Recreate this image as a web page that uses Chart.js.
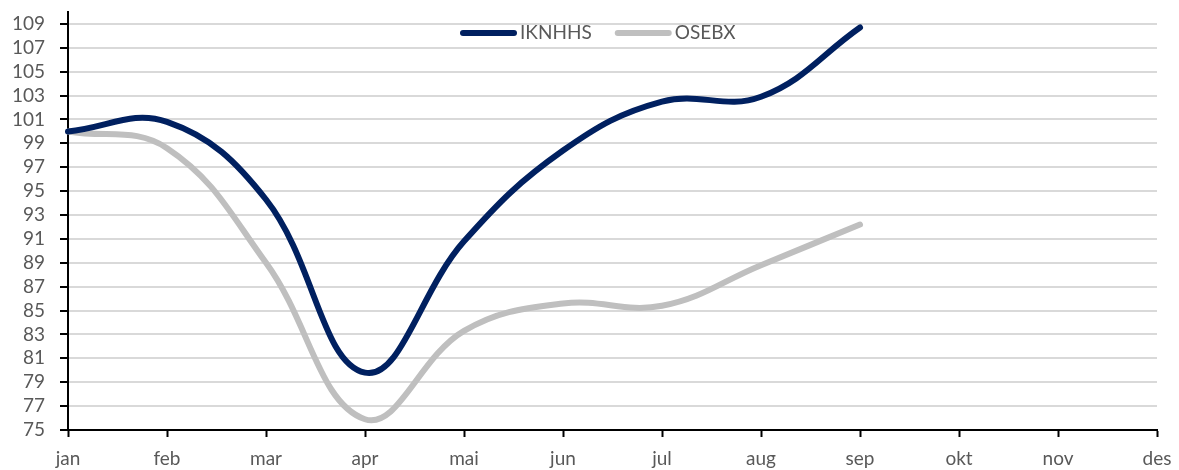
<!DOCTYPE html>
<html>
<head>
<meta charset="utf-8">
<script src="https://cdn.jsdelivr.net/npm/chart.js@4"></script>
<style>
  html, body { margin: 0; padding: 0; background: #fff; }
  #wrap { width: 1179px; height: 470px; }
</style>
</head>
<body>
<div id="wrap"><canvas id="mainChart"></canvas></div>
<script>
// months on the x axis
const months = ['jan', 'feb', 'mar', 'apr', 'mai', 'jun', 'jul', 'aug', 'sep', 'okt', 'nov', 'des'];

// index values (jan..sep)
const iknhhs = [100.0, 100.8, 94.3, 79.8, 90.8, 98.4, 102.5, 102.9, 108.7];
const osebx  = [100.0, 98.6, 89.0, 75.9, 83.3, 85.6, 85.4, 88.8, 92.2];

// y axis labels
const yTicks = [75, 77, 79, 81, 83, 85, 87, 89, 91, 93, 95, 97, 99, 101, 103, 105, 107, 109];

const fontFamily = 'Lato, "Open Sans", sans-serif';
const textColor = '#595959';

// legend drawn on top of the plot, like the Excel original
const lineLegend = {
  id: 'lineLegend',
  afterDraw(chart) {
    const ctx = chart.ctx;
    const y = 33;
    let x = 463;
    ctx.save();
    ctx.font = '19px ' + fontFamily;
    ctx.textBaseline = 'middle';
    chart.data.datasets.forEach(ds => {
      ctx.strokeStyle = ds.borderColor;
      ctx.lineWidth = 6;
      ctx.lineCap = 'round';
      ctx.beginPath();
      ctx.moveTo(x, y);
      ctx.lineTo(x + 51, y);
      ctx.stroke();
      x += 57;
      ctx.fillStyle = textColor;
      ctx.fillText(ds.label, x, y);
      x += ctx.measureText(ds.label).width + 26;
    });
    ctx.restore();
  }
};

const ctx = document.getElementById('mainChart').getContext('2d');

const data = {
  labels: months,
  datasets: [
    {
      label: 'IKNHHS',
      data: iknhhs,
      borderColor: '#002060',
      borderWidth: 6,
      borderCapStyle: 'round',
      pointRadius: 0,
      tension: 0.4,
    },
    {
      label: 'OSEBX',
      data: osebx,
      borderColor: '#bfbfbf',
      borderWidth: 6,
      borderCapStyle: 'round',
      pointRadius: 0,
      tension: 0.4,
    },
  ],
};

const config = {
  type: 'line',
  data: data,
  plugins: [lineLegend],
  options: {
    responsive: true,
    maintainAspectRatio: false,
    animation: false,
    layout: { padding: { top: 12, right: 22, left: 0, bottom: 0 } },
    plugins: {
      legend: { display: false },
      tooltip: { enabled: false },
    },
    scales: {
      x: {
        offset: false,
        grid: {
          drawOnChartArea: false,
          drawTicks: true,
          tickLength: 7,
          tickColor: '#000',
          tickWidth: 2,
        },
        border: { color: '#000', width: 2 },
        ticks: {
          color: textColor,
          font: { family: fontFamily, size: 19 },
          padding: 10,
          maxRotation: 0,
          autoSkip: false,
        },
        afterFit: (scale) => {
          scale.height = 40;
          scale.paddingLeft = 0;
          scale.paddingRight = 0;
        },
      },
      y: {
        min: 75,
        max: 110,
        afterBuildTicks: (scale) => {
          scale.ticks = yTicks.map(v => ({ value: v }));
        },
        grid: {
          color: '#d9d9d9',
          lineWidth: 2,
          tickLength: 8,
          tickColor: '#000',
          tickWidth: 2,
        },
        border: { color: '#000', width: 2 },
        ticks: {
          color: textColor,
          font: { family: fontFamily, size: 19 },
          padding: 15,
          autoSkip: false,
        },
        afterFit: (scale) => {
          scale.width = 68;
          scale.paddingTop = 0;
          scale.paddingBottom = 0;
        },
      },
    },
  },
};

const myChart = new Chart(ctx, config);
</script>
</body>
</html>
